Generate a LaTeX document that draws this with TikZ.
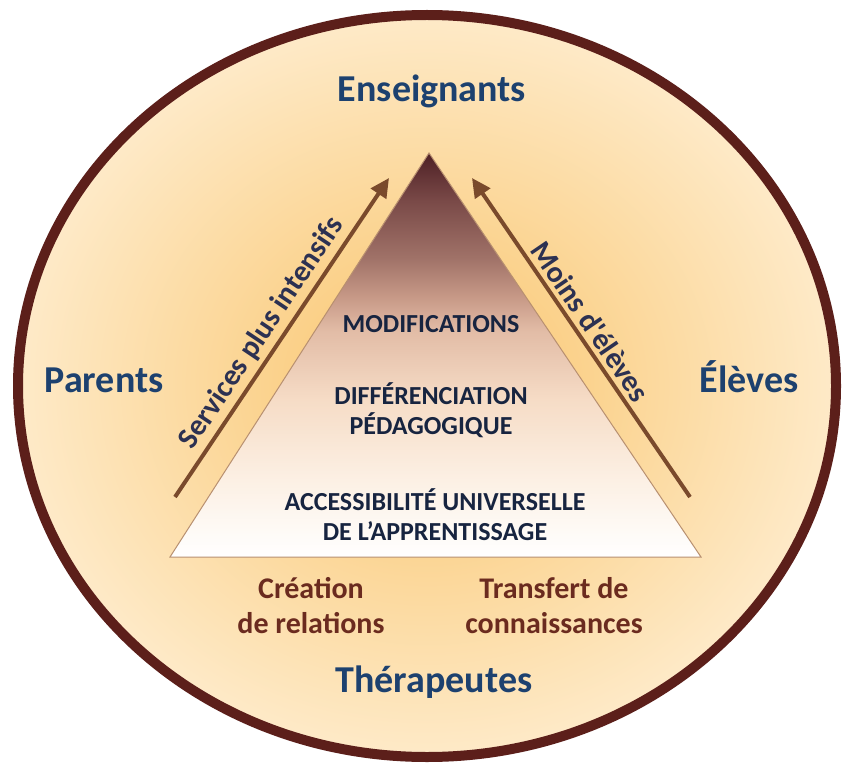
\documentclass[tikz,border=0pt]{standalone}
\usepackage{fontspec}
\setmainfont{Carlito}
\usetikzlibrary{arrows.meta}
\definecolor{rimcol}{HTML}{5C1F1A}
\definecolor{discin}{HTML}{F9C46A}
\definecolor{discout}{HTML}{FEEAC8}
\definecolor{actorcol}{HTML}{1D416F}
\definecolor{tiercol}{HTML}{172440}
\definecolor{bondcol}{HTML}{6B2B1F}
\definecolor{flowcol}{HTML}{7A4A2C}
\definecolor{risecol}{HTML}{2C3152}
\definecolor{edgecol}{HTML}{B89070}
\definecolor{pyrA}{HTML}{FCF0E4}
\definecolor{pyrB}{HTML}{F6DCC6}
\definecolor{pyrC}{HTML}{E2BCA6}
\definecolor{pyrD}{HTML}{C89A88}
\definecolor{pyrE}{HTML}{A07268}
\definecolor{pyrF}{HTML}{7A4A48}
\definecolor{pyrG}{HTML}{4E2025}
\pgfdeclareverticalshading{pyramid}{100bp}{color(0bp)=(white); color(25bp)=(white); color(34.5bp)=(pyrA); color(44.5bp)=(pyrB); color(53bp)=(pyrC); color(57bp)=(pyrD); color(62bp)=(pyrE); color(69bp)=(pyrF); color(75bp)=(pyrG); color(100bp)=(pyrG)}

\begin{document}
\begin{tikzpicture}[x=1pt, y=-1pt,
    actor/.style={font=\fontsize{38}{44}\selectfont\bfseries, text=actorcol, anchor=base},
    tier/.style={font=\fontsize{26}{30}\selectfont\bfseries, text=tiercol, align=center},
    bond/.style={font=\fontsize{30}{35}\selectfont\bfseries, text=bondcol, align=center},
    flow/.style={draw=flowcol, line width=4pt, -{Triangle[length=19pt, width=18pt]}},
    rise/.style={font=\fontsize{30}{32}\selectfont\bfseries, text=risecol, sloped, above=1pt}]
    \useasboundingbox (0,0) rectangle (842,767);
    \coordinate (c) at (427,386);
    \shade[inner color=discin, outer color=discout] (c) ellipse [x radius=409, y radius=371];
    \draw[rimcol, line width=10pt] (c) ellipse [x radius=409, y radius=371];
    \coordinate (top) at (429,153);
    \coordinate (bl) at (170,557);
    \coordinate (br) at (701,557);
    \shade[shading=pyramid, draw=edgecol, line width=1pt] (top) -- (bl) -- (br) -- cycle;
    \coordinate (sl) at (175,497);
    \coordinate (tl) at (389,178);
    \coordinate (sr) at (690,497);
    \coordinate (tr) at (472,178);
    \draw[flow] (sl) -- node[rise, pos=.48] (srv) {Services plus intensifs} (tl);
    \draw[flow] (sr) -- node[rise, pos=.52] (moi) {Moins d\textquotesingle élèves} (tr);
    \node[actor] (ens) at (432,102) {Enseignants};
    \node[actor] (par) at (104,392) {Parents};
    \node[actor] (ele) at (749,392) {Élèves};
    \node[actor] (the) at (434,692) {Thérapeutes};
    \node[tier, anchor=base] (mod) at (431,332) {MODIFICATIONS};
    \node[tier] (dif) at (431,410) {DIFFÉRENCIATION\\PÉDAGOGIQUE};
    \node[tier] (acc) at (435,515) {ACCESSIBILITÉ UNIVERSELLE\\DE L’APPRENTISSAGE};
    \node[bond] (cre) at (311,606) {Création\\de relations};
    \node[bond] (tra) at (554,606) {Transfert de\\connaissances};
\end{tikzpicture}
\end{document}
